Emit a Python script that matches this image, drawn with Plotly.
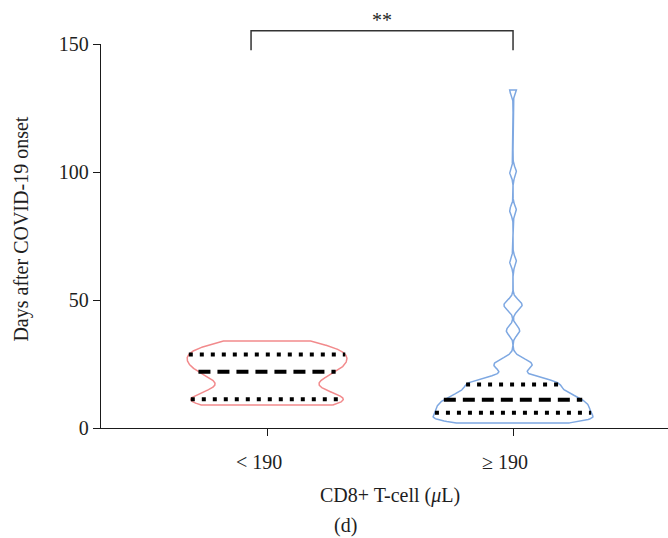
import numpy as np
import plotly.graph_objects as go

groups = ["< 190", "≥ 190"]

# Days from symptom onset, CD8+ T-cell count < 190 /μL
days_low = [9, 10, 10, 11, 11, 12, 14, 18, 20, 21, 23, 24, 25, 26, 28, 29, 30, 31, 32, 34]

# CD8+ T-cell count >= 190 /μL, tabulated as day -> number of patients
days_high = [2, 3, 4, 5, 6, 7, 8, 9, 10, 11, 12, 13, 14, 15, 16, 17, 18, 19, 20,
             23, 24, 25, 26, 27, 38, 47, 48, 49, 65, 85, 100, 132]
count_high = [6, 7, 6, 5, 4, 6, 5, 5, 5, 5, 4, 4, 4, 3, 2, 4, 4, 3, 1,
              1, 2, 2, 1, 1, 2, 1, 1, 1, 1, 1, 1, 1]

y_ticks = [0, 50, 100, 150]
significance = "**"

bandwidths = [3.5, 1.8]
colors = ["#F28A8C", "#7EA8E2"]
FONT = "Liberation Serif, Times New Roman, serif"
TXT = "#1e1e1e"
HALF = 0.325          # max half-width of a violin, in category units
x_range = [-0.675, 1.63]
y_range = [0, 150]


def kde(values, bw, pts):
    v = np.asarray(values, float)
    p = np.asarray(pts, float)
    return np.exp(-0.5 * ((p[:, None] - v[None, :]) / bw) ** 2).sum(axis=1)


samples = [np.array(days_low, float), np.repeat(days_high, count_high).astype(float)]

fig = go.Figure()
for i, (vals, bw, col) in enumerate(zip(samples, bandwidths, colors)):
    grid = np.linspace(vals.min(), vals.max(), 700)
    dens = kde(vals, bw, grid)
    peak = dens.max()
    w = dens / peak * HALF
    xs = np.concatenate([i + w, (i - w)[::-1], [i + w[0]]])
    ys = np.concatenate([grid, grid[::-1], [grid[0]]])
    fig.add_trace(go.Scatter(x=xs, y=ys, mode="lines", line=dict(color=col, width=1.5),
                             hoverinfo="skip", showlegend=False))
    quart = np.percentile(vals, [25, 50, 75], method="weibull")
    for q, dash in zip(quart, ["4px,7px", "12px,7px", "4px,7px"]):
        wq = kde(vals, bw, [q])[0] / peak * HALF
        fig.add_trace(go.Scatter(x=[i - wq, i + wq], y=[q, q], mode="lines",
                                 line=dict(color="black", width=4, dash=dash),
                                 hoverinfo="skip", showlegend=False))


def xpaper(v):
    return (v - x_range[0]) / (x_range[1] - x_range[0])


def ypaper(v):
    return (v - y_range[0]) / (y_range[1] - y_range[0])


# significance bracket between the two groups
bx0, bx1 = xpaper(-0.065), xpaper(1.0)
by_top, by_leg = ypaper(155.2), ypaper(147.6)
fig.add_shape(type="path", xref="paper", yref="paper",
              path=f"M {bx0} {by_leg} L {bx0} {by_top} L {bx1} {by_top} L {bx1} {by_leg}",
              line=dict(color="#333333", width=1.5))
fig.add_annotation(x=(bx0 + bx1) / 2, y=ypaper(159.3), xref="paper", yref="paper",
                   text=significance, showarrow=False, yanchor="middle",
                   font=dict(family=FONT, size=20, color=TXT))

fig.add_annotation(x=(21.5 - 101) / 567, y=0.518, xref="paper", yref="paper",
                   text="Days after COVID-19 onset", textangle=-90, showarrow=False,
                   xanchor="center", yanchor="middle",
                   font=dict(family=FONT, size=20, color=TXT))
fig.add_annotation(x=xpaper(0.5), y=-0.1745, xref="paper", yref="paper",
                   text="CD8+ T-cell (<i>μ</i>L)", showarrow=False,
                   xanchor="center", yanchor="middle",
                   font=dict(family=FONT, size=20, color=TXT))
fig.add_annotation(x=(345 - 101) / 567, y=-0.255, xref="paper", yref="paper",
                   text="(d)", showarrow=False, xanchor="center", yanchor="middle",
                   font=dict(family=FONT, size=20, color=TXT))

axis_common = dict(showline=True, linecolor="#1a1a1a", linewidth=1.3, ticks="outside",
                   ticklen=7, tickwidth=1.3, tickcolor="#1a1a1a", showgrid=False,
                   zeroline=False, tickfont=dict(family=FONT, size=20, color=TXT))

fig.update_layout(
    width=668, height=538, autosize=False,
    margin=dict(l=101, r=0, t=44, b=110),
    paper_bgcolor="white", plot_bgcolor="white",
    xaxis=dict(range=x_range, tickmode="array", tickvals=[0, 1], ticktext=groups,
               ticklabelshift=-8, ticklabelstandoff=9, **axis_common),
    yaxis=dict(range=y_range, tickmode="array", tickvals=y_ticks, **axis_common),
)

fig.write_html("out.html")
